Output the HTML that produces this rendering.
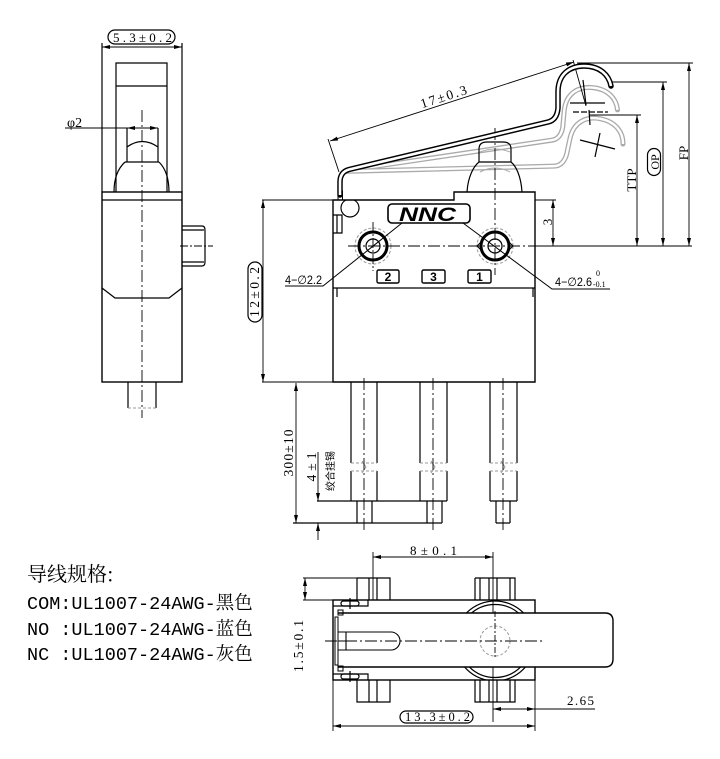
<!DOCTYPE html>
<html><head><meta charset="utf-8">
<style>
html,body{margin:0;padding:0;background:#fff;}
svg{display:block;}
</style></head><body>
<svg width="720" height="759" viewBox="0 0 720 759" xmlns="http://www.w3.org/2000/svg">
<defs>
<marker id="ar" viewBox="0 0 8 4" refX="8" refY="2" markerWidth="8" markerHeight="4" markerUnits="userSpaceOnUse" orient="auto-start-reverse"><path d="M0,0L8,2L0,4z" fill="#000"/></marker>
<clipPath id="bodyclip"><rect x="333" y="600" width="202" height="80"/></clipPath>
</defs>

<!-- grey lever positions (behind) -->
<g fill="none">
  <g transform="rotate(5 341 172)">
    <path d="M345,170.5 L548,122 Q557,120 558,108 L558,92 C558,74 570,66 584,66 C600,66 609,75 611,86" stroke="#aaa" stroke-width="5" stroke-linecap="round"/>
    <path d="M345,170.5 L548,122 Q557,120 558,108 L558,92 C558,74 570,66 584,66 C600,66 609,75 611,86" stroke="#fff" stroke-width="2.4"/>
  </g>
  <g transform="rotate(12 341 172)">
    <path d="M345,170.5 L548,122 Q557,120 558,108 L558,92 C558,74 570,66 584,66 C600,66 609,75 611,86" stroke="#aaa" stroke-width="5" stroke-linecap="round"/>
    <path d="M345,170.5 L548,122 Q557,120 558,108 L558,92 C558,74 570,66 584,66 C600,66 609,75 611,86" stroke="#fff" stroke-width="2.4"/>
  </g>
  <path d="M480,172 Q495,164 510,172 M480,152 Q495,146 510,152" stroke="#aaa" stroke-width="1"/>
</g>

<g fill="none" stroke="#000" stroke-width="1.2">
  <!-- ================= LEFT SIDE VIEW ================= -->
  <line x1="102" y1="43" x2="102" y2="192"/>
  <line x1="182" y1="43" x2="182" y2="192"/>
  <line x1="102" y1="47" x2="182" y2="47" stroke-width="0.9" marker-start="url(#ar)" marker-end="url(#ar)"/>
  <rect x="108" y="30" width="67" height="14" rx="7"/>
  <rect x="102" y="192" width="80" height="190" stroke-width="1.4"/>
  <line x1="102" y1="200" x2="182" y2="200"/>
  <path d="M116,192V63H167V192M116,86H167"/>
  <path d="M127,128V162M158,128V162M127,147Q142,136 158,147M125,162H159M125,162Q114,172 114,192M159,162Q169,172 169,192"/>
  <line x1="65" y1="128" x2="127" y2="128" stroke-width="0.9"/>
  <line x1="127" y1="128" x2="158" y2="128" stroke-width="0.9" marker-start="url(#ar)" marker-end="url(#ar)"/>
  <path d="M102,288L115,298H169L182,288"/>
  <path d="M182,226H202Q205,226 205,230V262Q205,266 202,266H182M182,230H204M182,262H204"/>
  <line x1="180" y1="246" x2="213" y2="246" stroke-width="0.9" stroke-dasharray="8 2 2 2"/>
  <path d="M128,382V408M156,382V408"/>
  <line x1="128" y1="408" x2="156" y2="408" stroke="#999" stroke-width="1" stroke-dasharray="3 2"/>
  <line x1="142" y1="110" x2="142" y2="418" stroke-width="0.9" stroke-dasharray="12 3 2 3"/>

  <!-- ================= FRONT VIEW ================= -->
  <path d="M333,200H454V192H535V382H333Z" stroke-width="1.4"/>
  <line x1="262" y1="200" x2="333" y2="200" stroke-width="0.9"/>
  <line x1="535" y1="200" x2="556" y2="200" stroke-width="0.9"/>
  <line x1="262" y1="382" x2="333" y2="382" stroke-width="0.9"/>
  <line x1="333" y1="288" x2="535" y2="288"/>
  <path d="M337,288V297M533,288V297"/>
  <path d="M345.9,200A9,9 0 1 0 354.1,200"/>
  <path d="M333,215H342V233H333M337,215V233"/>
  <rect x="388" y="204" width="82" height="19" rx="4" stroke-width="1.6"/>
  <circle cx="373" cy="246" r="18" stroke="#999" stroke-width="1" stroke-dasharray="3 2"/>
  <circle cx="373" cy="246" r="14" stroke-width="3"/>
  <circle cx="373" cy="246" r="7"/>
  <circle cx="495" cy="246" r="18" stroke="#999" stroke-width="1" stroke-dasharray="3 2"/>
  <circle cx="495" cy="246" r="14" stroke-width="3"/>
  <circle cx="495" cy="246" r="7"/>
  <path d="M477,246L481,242M477,246L481,250M513,246L509,242M513,246L509,250" stroke-width="1"/>
  <line x1="373" y1="222" x2="373" y2="271" stroke-width="0.9" stroke-dasharray="10 2 2 2"/>
  <line x1="348" y1="246" x2="535" y2="246" stroke-width="0.9" stroke-dasharray="12 3 2 3"/>
  <line x1="535" y1="246" x2="692" y2="246" stroke-width="0.9"/>
  <rect x="377" y="270" width="22" height="13" rx="1.5" stroke-width="1.4"/>
  <rect x="422" y="270" width="23" height="13" rx="1.5" stroke-width="1.4"/>
  <rect x="468" y="270" width="23" height="13" rx="1.5" stroke-width="1.4"/>
  <path d="M285,286H323L402,223" stroke-width="1"/>
  <path d="M463,223L552,289H610" stroke-width="1"/>
  <path d="M467,192C468,176 474,166 479,162H511C516,166 521,176 522,192"/>
  <path d="M479,162V149Q479,142 487,142H503Q511,142 511,149V162"/>
  <line x1="495" y1="128" x2="495" y2="275" stroke-width="0.9" stroke-dasharray="12 3 2 3"/>
  <line x1="263" y1="200" x2="263" y2="382" stroke-width="0.9" marker-start="url(#ar)" marker-end="url(#ar)"/>
  <rect x="248" y="262" width="14" height="60" rx="7"/>
  <line x1="553" y1="200" x2="553" y2="246" stroke-width="0.9" marker-start="url(#ar)" marker-end="url(#ar)"/>
  <line x1="590" y1="115" x2="641" y2="115" stroke-width="0.9"/>
  <line x1="637" y1="115" x2="637" y2="246" stroke-width="0.9" marker-start="url(#ar)" marker-end="url(#ar)"/>
  <line x1="612" y1="82" x2="667" y2="82" stroke-width="0.9"/>
  <line x1="663" y1="82" x2="663" y2="246" stroke-width="0.9" marker-start="url(#ar)" marker-end="url(#ar)"/>
  <rect x="647.5" y="148.5" width="13" height="27" rx="6.5"/>
  <line x1="577" y1="63" x2="693" y2="63" stroke-width="0.9"/>
  <line x1="689" y1="63" x2="689" y2="246" stroke-width="0.9" marker-start="url(#ar)" marker-end="url(#ar)"/>
  <line x1="330" y1="141" x2="574" y2="62" stroke-width="0.9" marker-start="url(#ar)" marker-end="url(#ar)"/>
  <line x1="328" y1="139" x2="339" y2="172" stroke-width="0.9"/>
  <line x1="573" y1="60" x2="586" y2="106" stroke-width="0.9"/>
  <line x1="570" y1="103" x2="605" y2="103"/>
  <line x1="573" y1="112" x2="608" y2="112" stroke-dasharray="6 2"/>
  <line x1="583" y1="80" x2="586" y2="105"/>
  <line x1="589" y1="110" x2="590" y2="125"/>
  <line x1="580" y1="140" x2="615" y2="149"/>
  <line x1="595" y1="157" x2="600" y2="133"/>
  <rect x="338" y="191" width="4.5" height="9" stroke-width="1"/>

  <!-- wires -->
  <path d="M351,382V463M377,382V463M351,471V501M377,471V501"/>
  <path d="M420,382V463M447,382V463M420,471V501M447,471V501"/>
  <path d="M490,382V463M517,382V463M490,471V501M517,471V501"/>
  <g stroke="#999" stroke-width="1" stroke-dasharray="3 2">
    <path d="M351,463H377M351,471H377M420,463H447M420,471H447M490,463H517M490,471H517"/>
  </g>
  <path d="M362,461L366,467L362,473M431,461L435,467L431,473M501,461L505,467L501,473" stroke="#999" stroke-width="1"/>
  <path d="M317,501H447M490,501H517"/>
  <path d="M357,501V523M372,501V523M427,501V523M442,501V523M496,501V523M510,501V523"/>
  <path d="M293,523H442M496,523H510"/>
  <g stroke-width="0.9" stroke-dasharray="12 3 2 3">
    <line x1="364" y1="378" x2="364" y2="532"/>
    <line x1="433" y1="378" x2="433" y2="532"/>
    <line x1="503" y1="378" x2="503" y2="532"/>
  </g>
  <line x1="296" y1="383" x2="296" y2="523" stroke-width="0.9" marker-start="url(#ar)" marker-end="url(#ar)"/>
  <line x1="318" y1="452" x2="318" y2="501" stroke-width="0.9" marker-end="url(#ar)"/>
  <line x1="318" y1="540" x2="318" y2="523" stroke-width="0.9" marker-end="url(#ar)"/>

  <!-- ================= BOTTOM VIEW ================= -->
  <line x1="373" y1="557" x2="493" y2="557" stroke-width="0.9" marker-start="url(#ar)" marker-end="url(#ar)"/>
  <line x1="373" y1="552" x2="373" y2="600" stroke-width="0.9"/>
  <line x1="493" y1="552" x2="493" y2="722" stroke-width="0.9"/>
  <path d="M357,578H390V600M357,600V578M369,578V600M377,578V600"/>
  <path d="M475,578H515V600M475,600V578M480,578V600M489,578V600M497,578V600M510,578V600"/>
  <path d="M357,680V702H390V680M369,680V702M377,680V702"/>
  <path d="M475,680V702H515V680M480,680V702M489,680V702M497,680V702M510,680V702"/>
  <g clip-path="url(#bodyclip)">
    <circle cx="495" cy="641" r="40"/>
    <circle cx="495" cy="641" r="36.5"/>
  </g>
  <rect x="333" y="600" width="202" height="80" stroke-width="1.4"/>
  <path d="M333,606H368V600M333,674H368V680"/>
  <rect x="341" y="601" width="18" height="5" rx="2.5"/>
  <rect x="341" y="674" width="18" height="5" rx="2.5"/>
  <path d="M350,598V609M350,671V682"/>
  <path d="M338,613H605Q613,613 613,621V659Q613,667 605,667H338" fill="#fff" stroke-width="1.4"/>
  <rect x="335" y="617" width="3" height="48" stroke-width="1"/>
  <rect x="338" y="610" width="5" height="5" stroke-width="1"/>
  <rect x="338" y="666" width="5" height="5" stroke-width="1"/>
  <path d="M338,632H391A9,9 0 0 1 391,650H338M346,632V650M338,641H346" stroke-width="1.1"/>
  <circle cx="495" cy="641" r="15" stroke="#999" stroke-width="1" stroke-dasharray="3 2"/>
  <line x1="325" y1="641" x2="543" y2="641" stroke-width="0.9" stroke-dasharray="12 3 2 3"/>
  <line x1="495" y1="611" x2="495" y2="658" stroke-width="0.9" stroke-dasharray="6 2 2 2"/>
  <line x1="303" y1="578" x2="357" y2="578" stroke-width="0.9"/>
  <line x1="303" y1="600" x2="333" y2="600" stroke-width="0.9"/>
  <line x1="305" y1="578" x2="305" y2="600" stroke-width="0.9" marker-start="url(#ar)" marker-end="url(#ar)"/>
  <line x1="333" y1="680" x2="333" y2="731" stroke-width="0.9"/>
  <line x1="535" y1="680" x2="535" y2="731" stroke-width="0.9"/>
  <line x1="333" y1="726" x2="535" y2="726" stroke-width="0.9" marker-start="url(#ar)" marker-end="url(#ar)"/>
  <rect x="400" y="711" width="73" height="12" rx="6"/>
  <line x1="493" y1="709" x2="535" y2="709" stroke-width="0.9" marker-start="url(#ar)" marker-end="url(#ar)"/>
  <line x1="535" y1="709" x2="595" y2="709" stroke-width="0.9"/>
</g>

<!-- black lever (front view) -->
<g fill="none">
  <path d="M340,195 L340,182 Q340,172 349,169.5 L548,122 Q557,120 558,108 L558,92 C558,74 570,66 584,66 C600,66 609,75 611,86" stroke="#000" stroke-width="5.5" stroke-linecap="round" stroke-linejoin="round"/>
  <path d="M340,195 L340,182 Q340,172 349,169.5 L548,122 Q557,120 558,108 L558,92 C558,74 570,66 584,66 C600,66 609,75 611,86" stroke="#fff" stroke-width="2.6" stroke-linejoin="round"/>
</g>

<!-- ================= TEXT ================= -->
<g font-family="'Liberation Serif', serif" font-size="13" fill="#000">
  <text x="113" y="42" textLength="59" lengthAdjust="spacing">5.3±0.2</text>
  <text x="67" y="127" font-size="14">φ2</text>
  <text x="410" y="555" textLength="47" lengthAdjust="spacing">8±0.1</text>
  <text x="405" y="721" font-size="12.5" textLength="65" lengthAdjust="spacing">13.3±0.2</text>
  <text x="567" y="705" textLength="27" lengthAdjust="spacing">2.65</text>
  <text transform="translate(445,101) rotate(-17.9)" text-anchor="middle" textLength="48" lengthAdjust="spacing" font-size="13.5">17±0.3</text>
  <text transform="translate(259,292) rotate(-90)" text-anchor="middle" textLength="50" lengthAdjust="spacing" font-size="13.5">12±0.2</text>
  <text transform="translate(552,222) rotate(-90)" text-anchor="middle">3</text>
  <text transform="translate(636,180) rotate(-90)" text-anchor="middle">TTP</text>
  <text transform="translate(659,162) rotate(-90)" text-anchor="middle" font-size="12">OP</text>
  <text transform="translate(688,153) rotate(-90)" text-anchor="middle">FP</text>
  <text transform="translate(293,453) rotate(-90)" text-anchor="middle" textLength="47" lengthAdjust="spacing" font-size="13.5">300±10</text>
  <text transform="translate(316,467) rotate(-90)" text-anchor="middle" textLength="29" lengthAdjust="spacing" font-size="13.5">4±1</text>
  <text transform="translate(334,471) rotate(-90)" text-anchor="middle" font-family="'Noto Sans CJK SC', sans-serif" font-size="10">绞合挂锡</text>
  <text transform="translate(303,646) rotate(-90)" text-anchor="middle" textLength="52" lengthAdjust="spacing" font-size="13.5">1.5±0.1</text>
</g>
<g font-family="'Liberation Sans', 'DejaVu Sans', sans-serif" fill="#000">
  <text x="399" y="221" font-size="19" font-weight="bold" font-style="italic" textLength="57" lengthAdjust="spacingAndGlyphs">NNC</text>
  <text x="388" y="281" font-size="12" font-weight="bold" text-anchor="middle">2</text>
  <text x="433.5" y="281" font-size="12" font-weight="bold" text-anchor="middle">3</text>
  <text x="479.5" y="281" font-size="12" font-weight="bold" text-anchor="middle">1</text>
  <text x="285" y="284" font-size="12" textLength="37" lengthAdjust="spacingAndGlyphs">4−∅2.2</text>
  <text x="555" y="286" font-size="12" textLength="37" lengthAdjust="spacingAndGlyphs">4−∅2.6</text>
  <text x="596" y="276" font-size="8" font-family="'Liberation Serif', serif">0</text>
  <text x="593" y="287" font-size="8" font-family="'Liberation Serif', serif">-0.1</text>
</g>
<g fill="#000">
  <text x="27" y="581" font-family="'Noto Serif CJK SC', 'Noto Sans CJK SC', serif" font-size="20">导线规格:</text>
  <text x="27" y="609" font-family="'Liberation Mono', 'Noto Serif CJK SC', monospace" font-size="18.5">COM:UL1007-24AWG-<tspan font-family="'Noto Serif CJK SC', 'Noto Sans CJK SC', serif">黑色</tspan></text>
  <text x="27" y="635" font-family="'Liberation Mono', 'Noto Serif CJK SC', monospace" font-size="18.5">NO :UL1007-24AWG-<tspan font-family="'Noto Serif CJK SC', 'Noto Sans CJK SC', serif">蓝色</tspan></text>
  <text x="27" y="660" font-family="'Liberation Mono', 'Noto Serif CJK SC', monospace" font-size="18.5">NC :UL1007-24AWG-<tspan font-family="'Noto Serif CJK SC', 'Noto Sans CJK SC', serif">灰色</tspan></text>
</g>
</svg>
</body></html>
